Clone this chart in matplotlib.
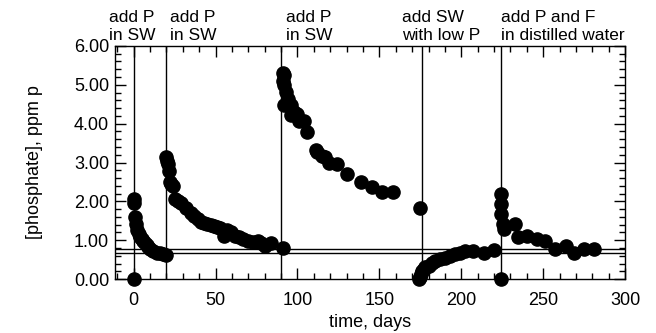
import matplotlib
matplotlib.use('Agg')
import matplotlib.pyplot as plt
from matplotlib.ticker import MultipleLocator, FormatStrFormatter

# additions (days) and their labels
event_days = [0, 20, 90, 176, 224]
event_labels = ['add P\nin SW', 'add P\nin SW', 'add P\nin SW',
                'add SW\nwith low P', 'add P and F\nin distilled water']
label_days = [-15, 22, 93, 164, 224]

# reference levels
ref_levels = [0.78, 0.68]

# measurements, one list per run
days1 = [0, 0, 0.5, 1, 1.5, 2, 3, 4, 5, 6, 7, 8, 9, 10, 12, 14, 16, 18, 20]
conc1 = [0.0, 2.05, 1.95, 1.6, 1.42, 1.27, 1.15, 1.08, 1.02, 0.97, 0.92, 0.87,
         0.82, 0.77, 0.72, 0.68, 0.66, 0.65, 0.62]

days2 = [20, 20.5, 21, 21.5, 22, 23, 24, 25, 27, 29, 32, 35, 37, 39, 41, 43,
         45, 47, 49, 51, 53, 55, 57, 59.5, 62, 64, 67, 70, 73, 76, 78, 80, 84, 91]
conc2 = [3.13, 3.05, 2.97, 2.79, 2.49, 2.45, 2.40, 2.07, 2.02, 1.97, 1.84, 1.71,
         1.63, 1.55, 1.46, 1.43, 1.41, 1.39, 1.37, 1.34, 1.31, 1.11, 1.25, 1.2,
         1.12, 1.07, 1.02, 0.98, 0.96, 0.98, 0.92, 0.85, 0.94, 0.81]

days3 = [91, 91.5, 91, 92, 93, 94, 91.5, 96, 96, 98, 100, 101, 104, 106, 111,
         112, 115, 117, 119, 124, 130, 138.5, 145.5, 151.5, 158]
conc3 = [5.3, 5.25, 5.1, 4.99, 4.81, 4.64, 4.47, 4.47, 4.21, 4.3, 4.26, 4.08,
         4.08, 3.78, 3.31, 3.27, 3.18, 3.13, 3.0, 2.96, 2.71, 2.49, 2.36, 2.23,
         2.23]

days4 = [175, 174, 175, 175.5, 176, 177, 178, 180, 182, 184, 187, 190, 193, 196,
         199, 202, 207, 214, 220]
conc4 = [1.84, 0.0, 0.06, 0.13, 0.2, 0.26, 0.3, 0.34, 0.41, 0.47, 0.51, 0.55,
         0.6, 0.64, 0.67, 0.72, 0.72, 0.68, 0.74]

days5 = [224.5, 224.5, 224.5, 224.5, 225.5, 226, 232.5, 234.5, 240, 246, 251,
         257, 264, 269, 275, 281]
conc5 = [0.0, 2.19, 1.93, 1.67, 1.41, 1.28, 1.41, 1.07, 1.11, 1.03, 0.98, 0.77,
         0.85, 0.68, 0.77, 0.77]

plt.rcParams['font.family'] = ['Liberation Sans', 'DejaVu Sans']

fig = plt.figure(figsize=(6.56, 3.33), dpi=100)
ax = fig.add_axes([0.175, 0.162, 0.778, 0.700])

for d in event_days:
    ax.axvline(d, color='black', lw=1.0, zorder=1)
for lv in ref_levels:
    ax.axhline(lv, color='black', lw=1.0, zorder=1)

for dd, cc in [(days1, conc1), (days2, conc2), (days3, conc3),
               (days4, conc4), (days5, conc5)]:
    ax.plot(dd, cc, 'o', color='black', ms=9.5, clip_on=False, zorder=3)

for x, txt in zip(label_days, event_labels):
    ax.text(x, 1.012, txt, transform=ax.get_xaxis_transform(),
            ha='left', va='bottom', fontsize=12.5, linespacing=1.3)

ax.set_xlim(-11.5, 300)
ax.set_ylim(0, 6)
ax.xaxis.set_major_locator(MultipleLocator(50))
ax.xaxis.set_minor_locator(MultipleLocator(10))
ax.yaxis.set_major_locator(MultipleLocator(1))
ax.yaxis.set_minor_locator(MultipleLocator(0.2))
ax.yaxis.set_major_formatter(FormatStrFormatter('%.2f'))
ax.tick_params(which='both', direction='in', top=True, right=True,
               labelsize=13, width=1)
ax.tick_params(which='major', length=8)
ax.tick_params(which='minor', length=4)
ax.tick_params(axis='x', which='major', pad=9)
ax.tick_params(axis='y', which='major', pad=4)
for s in ax.spines.values():
    s.set_linewidth(1)

ax.set_xlabel('time, days', fontsize=13, labelpad=4)
ax.set_ylabel('[phosphate], ppm p', fontsize=13, labelpad=22)

fig.savefig('out.png', dpi=100)
